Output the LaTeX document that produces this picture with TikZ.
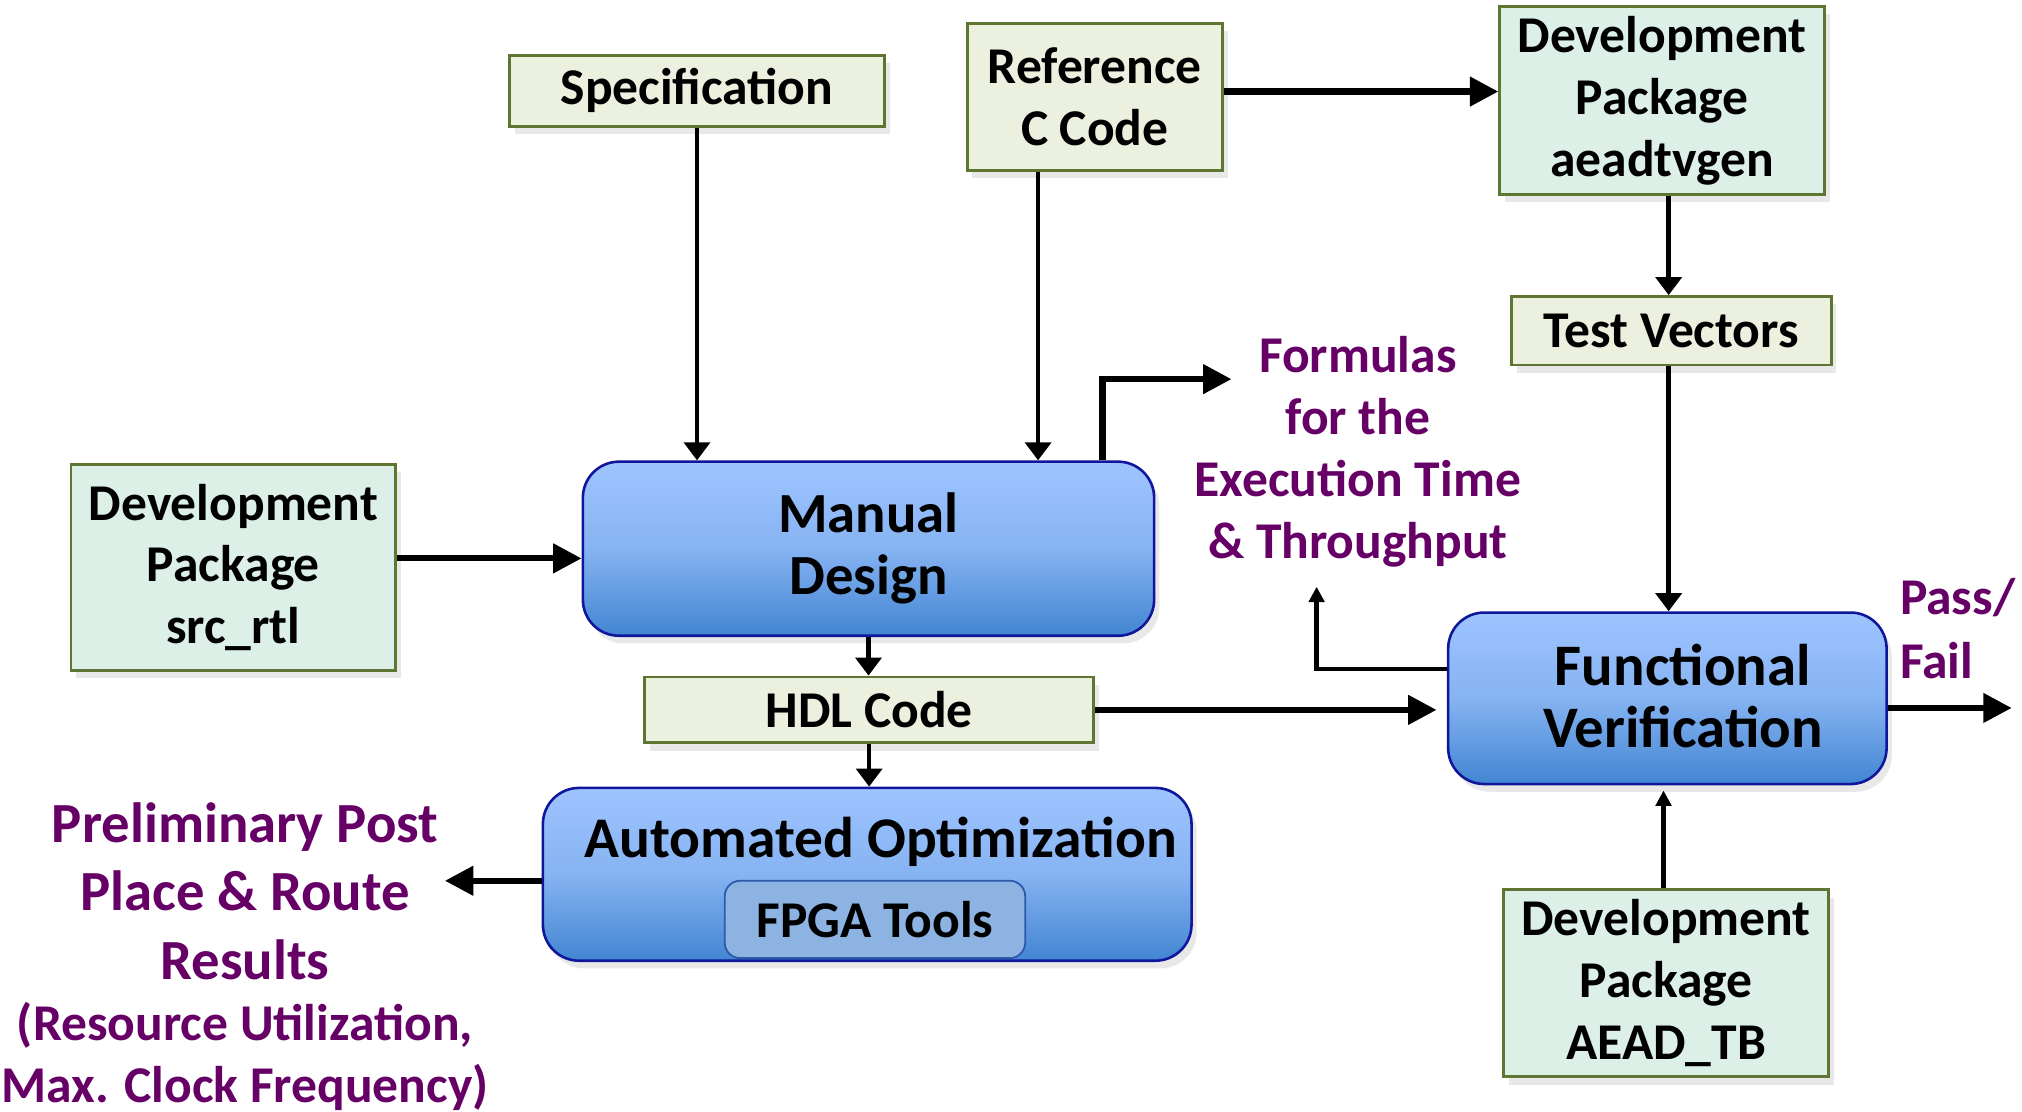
\documentclass[tikz,border=0pt]{standalone}
\usepackage{fontspec}
\setmainfont{Carlito}
\usetikzlibrary{arrows.meta,shadows,calc}
\definecolor{olivefill}{HTML}{EBF0DF}
\definecolor{mintfill}{HTML}{DDF0E7}
\definecolor{olivebd}{HTML}{5F7532}
\definecolor{bluetop}{HTML}{9EC4FF}
\definecolor{bluemid}{HTML}{86B3F2}
\definecolor{bluebot}{HTML}{4285D2}
\definecolor{navybd}{HTML}{10169A}
\definecolor{fpgafill}{HTML}{8DB3E2}
\definecolor{fpgabd}{HTML}{2E5AAC}
\definecolor{purp}{HTML}{660066}
\begin{document}
\begin{tikzpicture}[x=0.5pt,y=-0.5pt,
  boxtxt/.style={font=\fontsize{20}{24}\selectfont\bfseries, align=center, text=black},
  bigtxt/.style={font=\fontsize{22}{24}\selectfont\bfseries, align=center, text=black},
  shad/.style={drop shadow={opacity=0.18, shadow xshift=2pt, shadow yshift=-3pt}},
  olivebox/.style={boxtxt, shad, draw=olivebd, line width=1.1pt, fill=olivefill, inner sep=0pt},
  mintbox/.style={boxtxt, shad, draw=olivebd, line width=1.1pt, fill=mintfill, inner sep=0pt},
  bluebox/.style={shad, draw=navybd, line width=1pt, rounded corners=14pt, top color=bluetop, bottom color=bluebot, middle color=bluemid, inner sep=0pt},
  fpgabox/.style={boxtxt, draw=fpgabd, line width=0.7pt, fill=fpgafill, rounded corners=6pt, inner sep=0pt},
  purptxt/.style={font=\fontsize{20}{24}\selectfont\bfseries, align=center, text=purp},
  thinarr/.style={line width=1.7pt, -{Triangle[length=7pt,width=10pt]}},
  thickarr/.style={line width=2.4pt, -{Triangle[length=11pt,width=11pt]}},
  smallarr/.style={line width=1.7pt, -{Triangle[length=6pt,width=6pt]}}
]
\useasboundingbox (0,0) rectangle (1568,862);

% boxes
\node[olivebox, minimum width=145.5pt, minimum height=27.5pt] (spec) at (540.5,70.5) {Specification};
\node[olivebox, minimum width=99pt, minimum height=57pt] (ref) at (849,75) {Reference\\C Code};
\node[mintbox, minimum width=126pt, minimum height=73pt] (aead) at (1289,78) {Development\\Package\\aeadtvgen};
\node[olivebox, minimum width=124pt, minimum height=26.5pt] (tv) at (1296,256.5) {Test Vectors};
\node[mintbox, minimum width=126pt, minimum height=80pt] (src) at (181,440) {Development\\Package\\src\_rtl};
\node[bluebox, bigtxt, minimum width=221.5pt, minimum height=67.5pt] (manual) at (673.5,425.5) {Manual\\Design};
\node[olivebox, minimum width=174pt, minimum height=25.5pt] (hdl) at (674,550.5) {HDL Code};
\node[bluebox, minimum width=251.5pt, minimum height=67pt] (auto) at (672.5,678) {};
\node[bigtxt, font=\fontsize{22.3}{24}\selectfont\bfseries] (autolbl) at (683,653) {Automated Optimization};
\node[fpgabox, minimum width=116.5pt, minimum height=30pt] (fpga) at (678.5,713) {FPGA Tools};
\node[bluebox, minimum width=170pt, minimum height=66.5pt] (fv) at (1293,541.5) {};
\node[bigtxt, font=\fontsize{22.8}{24}\selectfont\bfseries] (fvlbl) at (1305,539.5) {Functional\\Verification};
\node[mintbox, minimum width=126pt, minimum height=72.5pt] (tb) at (1292,762.5) {Development\\Package\\AEAD\_TB};

% purple texts
\node[purptxt] (formulas) at (1053,350.5) {Formulas\\for the\\Execution Time\\\& Throughput};
\node[purptxt, font=\fontsize{22}{26.5}\selectfont\bfseries] (prelim) at (190,691) {Preliminary Post\\Place \& Route\\Results};
\node[purptxt] (prelim2) at (190,819) {(Resource Utilization,\\Max. Clock Frequency)};
\node[purptxt, font=\fontsize{20}{24.5}\selectfont\bfseries, align=left, anchor=west, inner sep=0pt] (passfail) at (1473,487.5) {Pass/\\Fail};

% free arrow ends
\coordinate (ftip) at (955,294);
\coordinate (uptip) at (1021,455);
\coordinate (pftip) at (1560,549);
\coordinate (pretip) at (345,683);

% connectors
\draw[thinarr] (spec.south) -- (spec.south |- manual.north);
\draw[thinarr] ([xshift=-22pt]ref.south) -- ([xshift=-22pt]ref.south |- manual.north);
\draw[thickarr] ([yshift=2pt]ref.east) -- ([yshift=2pt]ref.east -| aead.west);
\draw[thinarr] ([xshift=2.5pt]aead.south) -- ([xshift=2.5pt]aead.south |- tv.north);
\draw[thinarr] ([xshift=-1pt]tv.south) -- ([xshift=-1pt]tv.south |- fv.north);
\draw[thickarr] ([yshift=3.5pt]src.east) -- ([yshift=3.5pt]src.east -| manual.west);
\draw[thickarr] ([xshift=90.75pt]manual.north) |- (ftip);
\draw[thinarr] (manual.south) -- (manual.south |- hdl.north);
\draw[thinarr] (hdl.south) -- (hdl.south |- auto.north);
\draw[thickarr] (hdl.east) -- ([xshift=-4pt]hdl.east -| fv.west);
\draw[smallarr] ([yshift=11.25pt]fv.west) -| (uptip);
\draw[thickarr] ([yshift=-3.75pt]fv.east) -- (pftip);
\draw[thickarr] ([yshift=-2.5pt]auto.west) -- (pretip);
\draw[smallarr, shorten >=2pt] ([xshift=-1pt]tb.north) -- ([xshift=-1pt]tb.north |- fv.south);
\end{tikzpicture}
\end{document}
